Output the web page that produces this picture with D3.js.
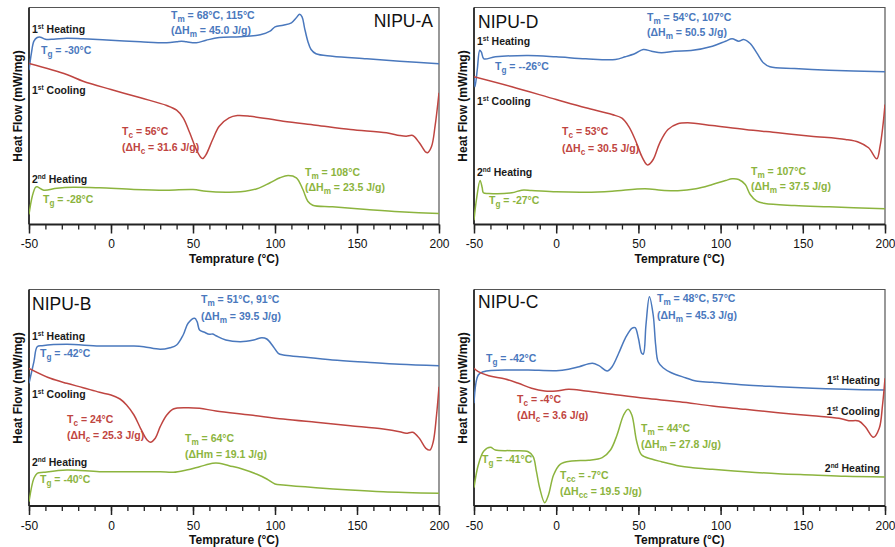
<!DOCTYPE html>
<html><head><meta charset="utf-8">
<script src="https://cdn.jsdelivr.net/npm/d3@7/dist/d3.min.js"></script>
<style>
html,body{margin:0;padding:0;background:#fff;}
svg{display:block;font-family:"Liberation Sans",Arial,sans-serif;}
</style></head>
<body>
<svg id="chart" width="895" height="547"></svg>
<script>
// ---------- data (temperature °C, heat flow in arbitrary units) ----------
const majorTicks = [-50, 0, 50, 100, 150, 200];
const minorTicks = d3.range(-50, 201, 10);
const xTitle = "Temprature (°C)";
const yTitle = "Heat Flow (mW/mg)";

const aHeat1 = [[-50,154.3],[-48.5,171.7],[-47,183.3],[-45,187],[-43,187.3],[-40,185.3],[-35,185.3],[-27,186.3],[-17,185.7],[0,184.3],[18,182.7],[34,181.7],[40,182.7],[43,183.3],[46,182.7],[52,181.7],[58,184.3],[66,187],[79,187.7],[91,189.7],[97,193.3],[100,197.7],[105,199.3],[110,201.7],[113,206.7],[115,210.3],[116.5,207.7],[118,196.7],[120,183.3],[122,175],[125,170.7],[135,168.3],[156,165.7],[176,163.3],[200,160.7]];
const aCool1 = [[-50,161],[-27,150],[-17,143.3],[0,135],[18,126.7],[34,119],[40,114.3],[44,106.7],[48,91.7],[52,75],[55,66.7],[56,66],[58,70],[62,85],[66,98.3],[72,106.7],[77,109],[85,108.3],[105,103.3],[125,99.3],[146,95],[168,91.7],[176,89],[180,88.3],[184,89],[188,81.7],[192,72.3],[193,71.7],[195.5,78.3],[197.6,98.3],[200,131.7]];
const aHeat2 = [[-50,10],[-48,28.3],[-46,37.3],[-45,37.7],[-41,34.3],[-33,36.3],[-23,37.3],[-7,36.7],[14,35],[34,34.3],[50,35],[58,33.3],[70,32.3],[79,32.7],[89,35.7],[97,41.7],[103,46.7],[108,49],[113,46.7],[117,35],[120,23.3],[123,19.3],[135,17.7],[156,15],[176,12.7],[200,11]];

const dHeat1 = [[-50,146.7],[-49.4,137.7],[-48,155],[-46.5,174.3],[-45.5,172.3],[-44,165.7],[-37,167.7],[-17,169],[0,167.7],[18,165.7],[36,165],[42,167.7],[48,171],[53,175],[58,173.3],[64,171.7],[72,173.3],[82,174],[95,178.3],[103,183.3],[107,185.7],[111,183.3],[114,185],[118,181],[122,171.7],[126,161.7],[130,157.7],[145,156],[166,154.3],[200,152.7]];
const dCool1 = [[-50,147.7],[-27,137.7],[0,125],[18,116.7],[34,110],[40,106.3],[44,98.3],[48,85],[52,68.3],[55,60],[56,59.7],[59,65],[63,81.7],[68,95],[74,100.7],[80,101.7],[95,99],[115,95],[135,91.7],[155,88.3],[176,85],[184,82.3],[190,76.7],[195,65.7],[197,78.3],[198.7,98.3],[200,120]];
const dHeat2 = [[-50,4.3],[-48.5,25],[-46.3,44],[-45,36.7],[-44.3,31.7],[-41,31],[-27,31.7],[-21,34.3],[-15,34],[0,32.7],[18,32.3],[34,33.3],[54,35.7],[64,34.3],[74,33.7],[85,35.7],[95,40],[103,44],[107,45.7],[111,45],[115,40],[118,30],[122,23.3],[127,21],[145,19],[166,17.7],[200,15.7]];

const bHeat1 = [[-50,122.7],[-47,144.3],[-45,159.3],[-42,160.3],[-27,161.7],[-7,160],[14,160],[20,159.3],[30,156.7],[36,158.3],[40,161],[44,171],[47,182.7],[51,187.7],[52.5,184.3],[54,176],[57,173.7],[60,171.7],[62,172],[64,170.3],[70,166],[79,164.3],[87,166],[92,168.3],[95,167],[99,159.3],[102,152.7],[105,151],[115,149.3],[135,146],[156,143.7],[176,141.7],[200,140.3]];
const bCool1 = [[-50,137.7],[-37,127.7],[-27,122.7],[-17,118.3],[-7,113.7],[0,111],[5.5,107],[9.5,101],[14,91],[18,77.7],[22,66],[24,63.7],[27,67.7],[30,79.3],[34,91],[38,97],[46,98.3],[54,97.7],[64,95],[85,91],[105,87],[125,83.7],[146,80.3],[166,77],[176,74.3],[180,72.7],[184,73.7],[188,67.7],[192,57.7],[194.5,56],[196.5,64.3],[198.5,91],[200,119.3]];
const bHeat2 = [[-50,4.3],[-47,27.7],[-45,32.7],[-41,33.7],[-27,36],[-7,34.3],[14,34.3],[30,34.3],[38,33.7],[46,36],[54,39.3],[62,42.7],[66,42.7],[72,40.3],[80,37],[89,31.7],[95,27],[100,22],[105,21],[125,18.3],[146,16],[166,14.3],[200,12.7]];

const cHeat1 = [[-50,102.7],[-47.4,131],[-44.3,134.3],[-27,136],[-17,136],[0,135.3],[7.5,136.7],[14,139.3],[22,142.7],[26,140.3],[31,135],[34,139.3],[38,152.7],[42,167.7],[46,177.7],[48,178.3],[50,167.7],[52,152.7],[53,152],[54.6,181],[56.7,209.3],[59,191],[60.5,161],[62,144.3],[65,138.3],[70,133.3],[78.6,128.3],[85,125],[95,123.7],[115,121],[135,119.3],[156,117.7],[176,116.7],[200,116]];
const cCool1 = [[-50,137.7],[-47.4,134.3],[-41,130.3],[-31,127],[-23,122.7],[-15,117.7],[-7,115],[0,115],[7.5,116.7],[18,115],[34,111.7],[54,107.7],[75,104.3],[95,100],[115,96.7],[135,93.3],[156,90.3],[172,87.7],[178,85.3],[184,85],[188,79.3],[193,68.7],[196.5,77.7],[198.5,101],[200,127.7]];
const cHeat2 = [[-50,18.3],[-47.4,41],[-44,55],[-40,58.7],[-37,56],[-27,55.3],[-17,54.3],[-14,49.3],[-12,34.3],[-10,17.7],[-7,3.3],[-4.7,11],[-1.6,31],[2.4,41.7],[9.5,45],[19.7,45.7],[28,48.3],[33,56],[37,71],[41,91],[43.7,96.7],[46,91],[49,64.3],[52,51],[58,47],[64,44.3],[75,40],[83,38.3],[95,36.7],[115,34.3],[135,32.3],[156,31],[176,29.7],[200,29]];

const panelNames = ["NIPU-A", "NIPU-D", "NIPU-B", "NIPU-C"];

// annotation texts per panel: [text, colourKey]
const aNotes = [["1^{st} Heating","k"],["T_{g} = -30°C","b"],["T_{m} = 68°C, 115°C","b"],["(ΔH_{m} = 45.0 J/g)","b"],["1^{st} Cooling","k"],["T_{c} = 56°C","r"],["(ΔH_{c} = 31.6 J/g)","r"],["2^{nd} Heating","k"],["T_{g} = -28°C","g"],["T_{m} = 108°C","g"],["(ΔH_{m} = 23.5 J/g)","g"]];
const dNotes = [["1^{st} Heating","k"],["T_{g} = --26°C","b"],["T_{m} = 54°C, 107°C","b"],["(ΔH_{m} = 50.5 J/g)","b"],["1^{st} Cooling","k"],["T_{c} = 53°C","r"],["(ΔH_{c} = 30.5 J/g)","r"],["2^{nd} Heating","k"],["T_{g} = -27°C","g"],["T_{m} = 107°C","g"],["(ΔH_{m} = 37.5 J/g)","g"]];
const bNotes = [["1^{st} Heating","k"],["T_{g} = -42°C","b"],["T_{m} = 51°C, 91°C","b"],["(ΔH_{m} = 39.5 J/g)","b"],["1^{st} Cooling","k"],["T_{c} = 24°C","r"],["(ΔH_{c} = 25.3 J/g)","r"],["T_{m} = 64°C","g"],["(ΔHm = 19.1 J/g)","g"],["2^{nd} Heating","k"],["T_{g} = -40°C","g"]];
const cNotes = [["T_{m} = 48°C, 57°C","b"],["(ΔH_{m} = 45.3 J/g)","b"],["T_{g} = -42°C","b"],["1^{st} Heating","k"],["T_{c} = -4°C","r"],["(ΔH_{c} = 3.6 J/g)","r"],["1^{st} Cooling","k"],["T_{m} = 44°C","g"],["(ΔH_{m} = 27.8 J/g)","g"],["T_{g} = -41°C","g"],["2^{nd} Heating","k"],["T_{cc} = -7°C","g"],["(ΔH_{cc} = 19.5 J/g)","g"]];

// ---------- layout / style ----------
const colors = {b:"#4a78bd", r:"#bf4541", g:"#8cb43e", k:"#1a1a1a"};
const layout = [
  {left:29, right:439, top:7.5, bottom:224.5, ymax:217, series:[aHeat1,aCool1,aHeat2], notes:aNotes,
   pos:[[3,25.5],[12,46],[142,11.5],[142,26],[3,86.5],[93,127.5],[93,143],[3,175],[14,195.5],[276,168],[276,183]],
   anchors:{}, title:[404,19,"end"]},
  {left:474, right:885, top:7.5, bottom:224.5, ymax:217, series:[dHeat1,dCool1,dHeat2], notes:dNotes,
   pos:[[3,37.5],[21,62],[173,13],[173,28.5],[3,97],[88,127.5],[88,144],[3,168],[15,196],[277,167.5],[277,182.5]],
   anchors:{}, title:[4,20,"start"]},
  {left:29, right:439, top:289.5, bottom:506, ymax:216.5, series:[bHeat1,bCool1,bHeat2], notes:bNotes,
   pos:[[3,50.5],[11,67.5],[172,13.5],[172,30.5],[3,108.5],[38,133.5],[38,149.5],[156,152.5],[156,168.5],[3,176.5],[11,193.5]],
   anchors:{}, title:[3,20.5,"start"]},
  {left:474, right:885, top:289.5, bottom:506, ymax:216.5, series:[cHeat1,cCool1,cHeat2], notes:cNotes,
   pos:[[183,12.5],[183,29.5],[12,72.5],[406,94.5],[43,113.5],[43,129.5],[406,125.5],[167,142.5],[167,158.5],[8,173.5],[406,182.5],[86,189.5],[86,205.5]],
   anchors:{3:"end",6:"end",10:"end"}, title:[4,18.5,"start"]}
];
const seriesColors = [colors.b, colors.r, colors.g];

const svg = d3.select("#chart");

function richText(sel, str, size) {
  const re = /([_^])\{([^}]*)\}/g;
  let last = 0, m, parts = [];
  while ((m = re.exec(str)) !== null) {
    if (m.index > last) parts.push({t: str.slice(last, m.index), k: ""});
    parts.push({t: m[2], k: m[1]});
    last = re.lastIndex;
  }
  if (last < str.length) parts.push({t: str.slice(last), k: ""});
  const off = k => k === "_" ? size*0.32 : k === "^" ? -size*0.38 : 0;
  let prev = "";
  parts.forEach(p => {
    const ts = sel.append("tspan").text(p.t);
    const dy = off(p.k) - off(prev);
    if (dy !== 0) ts.attr("dy", dy);
    if (p.k === "_") ts.attr("font-size", size*0.78);
    if (p.k === "^") ts.attr("font-size", size*0.62);
    prev = p.k;
  });
}

layout.forEach((P, i) => {
  const x = d3.scaleLinear().domain([-50, 200]).range([P.left, P.right]);
  const y = d3.scaleLinear().domain([0, P.ymax]).range([P.bottom, P.top]);
  const g = svg.append("g");

  const clipId = "clip" + i;
  g.append("clipPath").attr("id", clipId).append("rect")
    .attr("x", P.left).attr("y", P.top).attr("width", P.right - P.left).attr("height", P.bottom - P.top);

  g.append("path").attr("d", `M${P.left},${P.top}H${P.right}V${P.bottom}`)
    .attr("fill", "none").attr("stroke", "#555").attr("stroke-width", 1.2);
  g.append("line").attr("x1", P.left).attr("x2", P.left).attr("y1", P.top).attr("y2", P.bottom)
    .attr("stroke", "#222").attr("stroke-width", 1.8);

  const line = d3.line().x(d => x(d[0])).y(d => y(d[1])).curve(d3.curveCatmullRom.alpha(0.5));
  P.series.forEach((s, k) => {
    g.append("path").datum(s).attr("d", line).attr("fill", "none")
      .attr("stroke", seriesColors[k]).attr("stroke-width", 1.5).attr("clip-path", `url(#${clipId})`);
  });

  const minor = d3.axisBottom(x).tickValues(minorTicks).tickSize(5).tickFormat("");
  const gm = g.append("g").attr("transform", `translate(0,${P.bottom})`).call(minor);
  gm.select(".domain").remove();
  gm.selectAll(".tick line").attr("stroke", "#222").attr("stroke-width", 1.3);
  const major = d3.axisBottom(x).tickValues(majorTicks).tickSize(9).tickPadding(6).tickFormat(d => String(d));
  const ga = g.append("g").attr("transform", `translate(0,${P.bottom})`).call(major);
  ga.select(".domain").attr("stroke", "#222").attr("stroke-width", 1.8).attr("d", `M${P.left},0H${P.right}`);
  ga.selectAll(".tick line").attr("stroke", "#222").attr("stroke-width", 1.5);
  ga.selectAll(".tick text").attr("font-size", 12).attr("fill", "#111")
    .attr("font-family", '"Liberation Sans", Arial, sans-serif');

  g.append("text").attr("x", (P.left + P.right) / 2).attr("y", P.bottom + 38)
    .attr("text-anchor", "middle").attr("font-size", 12).attr("font-weight", "bold").attr("fill", "#111").text(xTitle);
  g.append("text").attr("transform", `translate(${P.left - 7},${P.top + 98.5}) rotate(-90)`)
    .attr("text-anchor", "middle").attr("font-size", 12).attr("font-weight", "bold").attr("fill", "#111").text(yTitle);

  g.append("text").attr("x", P.left + P.title[0]).attr("y", P.top + P.title[1]).attr("text-anchor", P.title[2])
    .attr("font-size", 17.5).attr("fill", "#111").text(panelNames[i]);

  P.notes.forEach((n, j) => {
    const fs = 10.5;
    const t = g.append("text").attr("x", P.left + P.pos[j][0]).attr("y", P.top + P.pos[j][1])
      .attr("font-size", fs).attr("font-weight", "bold").attr("fill", colors[n[1]])
      .attr("text-anchor", P.anchors[j] || "start");
    richText(t, n[0], fs);
  });
});
</script>
</body></html>
